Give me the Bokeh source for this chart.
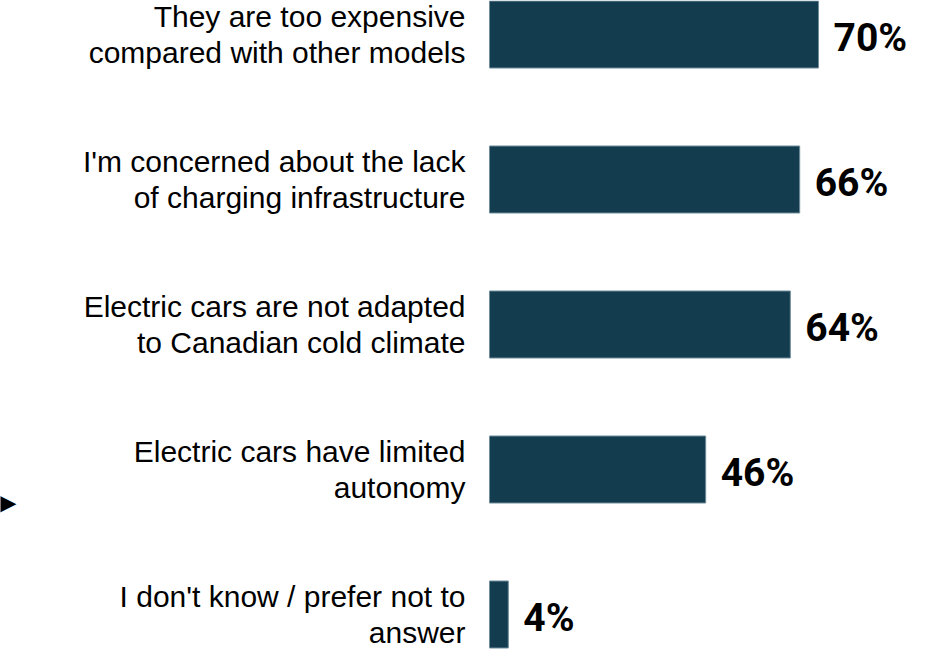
from bokeh.plotting import figure
from bokeh.models import Range1d, ColumnDataSource
from bokeh.core.properties import value
from bokeh.embed import file_html
from bokeh.resources import INLINE

categories = [
    "They are too expensive\ncompared with other models",
    "I'm concerned about the lack\nof charging infrastructure",
    "Electric cars are not adapted\nto Canadian cold climate",
    "Electric cars have limited\nautonomy",
    "I don't know / prefer not to\nanswer",
]
values = [70, 66, 64, 46, 4]
value_labels = ["70%", "66%", "64%", "46%", "4%"]

W, H = 915, 654
px_per_unit = 4.70
bar_left_px = 489
row_px = 145.0
first_center_px = 34.0

x_start = -bar_left_px / px_per_unit
x_end = (W - bar_left_px) / px_per_unit
y_top = -first_center_px / row_px
y_bottom = (H - first_center_px) / row_px

p = figure(width=W, height=H, output_backend="svg", toolbar_location=None,
           x_range=Range1d(x_start, x_end), y_range=Range1d(y_bottom, y_top),
           min_border=0, min_border_left=0, min_border_right=0,
           min_border_top=0, min_border_bottom=0)
p.axis.visible = False
p.grid.visible = False
p.outline_line_color = None
p.background_fill_color = "white"
p.border_fill_color = "white"

idx = list(range(len(categories)))
line1 = [c.split("\n")[0] for c in categories]
line2 = [c.split("\n")[1] for c in categories]

src = ColumnDataSource(dict(y=idx, v=values, lab=value_labels, l1=line1, l2=line2,
                            zero=[0] * len(idx)))

p.hbar(y="y", left="zero", right="v", height=67 / row_px, source=src,
       fill_color="#133c4f", line_color="#6f8d9c", line_width=1)

p.text(x="v", y="y", text="lab", source=src, x_offset=15, y_offset=3,
       text_align="left", text_baseline="alphabetic",
       text_font=value("Roboto"), text_font_style="bold",
       text_font_size="39px", text_color="black")

p.text(x="zero", y="y", text="l1", source=src, x_offset=-24, y_offset=-18.5,
       text_align="right", text_baseline="alphabetic",
       text_font=value("Liberation Sans"), text_font_size="30px", text_color="black")
p.text(x="zero", y="y", text="l2", source=src, x_offset=-24, y_offset=17.5,
       text_align="right", text_baseline="alphabetic",
       text_font=value("Liberation Sans"), text_font_size="30px", text_color="black")

# small pointer arrow at the left, next to the 4th item
p.text(x=[x_start], y=[idx[3]], text=["\u25b6"], x_offset=16, y_offset=33,
       text_align="right", text_baseline="middle",
       text_font=value("DejaVu Sans"), text_font_size="22px", text_color="black")

open("out.html", "w").write(file_html(p, INLINE))
